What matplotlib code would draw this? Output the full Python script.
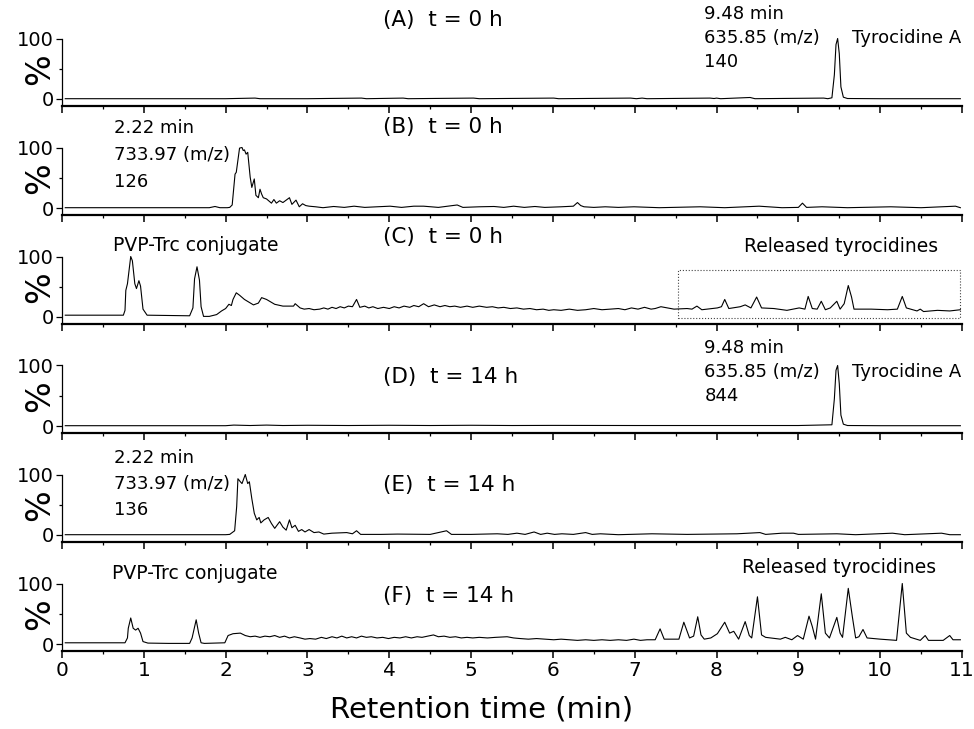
import matplotlib.pyplot as plt
from matplotlib.patches import Rectangle
from matplotlib.ticker import MultipleLocator

# ---- data (time in min, intensity in %) ----
a_time = [0.04, 1.0, 2.0, 2.36, 2.42, 3.0, 3.66, 3.72, 4.17, 4.23, 5.03, 5.1, 6.01, 6.07,
          6.95, 7.02, 7.09, 7.15, 7.92, 7.97, 8.0, 8.05, 8.41, 8.47, 9.31, 9.36, 9.41,
          9.44, 9.46, 9.48, 9.50, 9.52, 9.55, 9.6, 10.0, 10.5, 10.98]
a_int = [0.5, 0.5, 0.5, 1.5, 0.5, 0.5, 1.5, 0.5, 1.5, 0.5, 1.5, 0.5, 1.5, 0.5,
         1.5, 0.5, 1.5, 0.5, 1.5, 0.8, 1.5, 0.5, 2.5, 0.5, 1.5, 0.5, 2,
         40, 90, 100, 75, 20, 3, 0.8, 0.5, 0.5, 0.5]

b_time = [0.04, 1.0, 1.8, 1.87, 1.93, 2.02, 2.05, 2.08, 2.115, 2.13, 2.17, 2.20, 2.215,
          2.23, 2.25, 2.27, 2.30, 2.32, 2.35, 2.37, 2.40, 2.42, 2.44, 2.46, 2.50, 2.56,
          2.59, 2.62, 2.66, 2.70, 2.74, 2.78, 2.81, 2.86, 2.90, 2.94, 2.98, 3.02, 3.10,
          3.19, 3.32, 3.45, 3.57, 3.7, 3.85, 4.01, 4.15, 4.3, 4.42, 4.6, 4.83, 4.9, 5.1,
          5.28, 5.4, 5.52, 5.65, 5.78, 5.9, 6.1, 6.25, 6.3, 6.34, 6.38, 6.5, 6.64, 6.8,
          6.99, 7.3, 7.8, 8.1, 8.52, 8.8, 9.0, 9.05, 9.1, 9.29, 9.6, 10.13, 10.5, 10.92,
          10.98]
b_int = [0.5, 0.5, 0.5, 2.5, 0.5, 0.5, 1, 5, 56, 59, 99, 100, 95,
         96, 89, 92, 51, 34, 48, 21, 17, 31, 23, 17, 15, 8,
         14, 8, 12, 9, 13, 17, 6, 13, 2, 7, 4, 3, 2,
         0.5, 2.5, 1, 3, 1, 2, 3, 1, 3, 3, 1, 5, 1, 2,
         2.5, 1, 3, 1, 2.5, 1, 2, 3, 9, 4, 2, 1, 2, 1,
         2, 0.5, 2, 0.5, 3, 0.5, 1, 8, 1, 2, 0.5, 2, 0.5, 3,
         0.5]

c_time = [0.04, 0.4, 0.75, 0.77, 0.78, 0.80, 0.84, 0.86, 0.89, 0.91, 0.94, 0.96, 0.99,
          1.04, 1.3, 1.56, 1.60, 1.62, 1.65, 1.68, 1.70, 1.73, 1.8, 1.89, 1.95, 2.0,
          2.04, 2.07, 2.09, 2.13, 2.17, 2.23, 2.34, 2.40, 2.44, 2.50, 2.60, 2.70, 2.83,
          2.85, 2.91, 2.96, 3.02, 3.08, 3.15, 3.2, 3.25, 3.3, 3.35, 3.4, 3.45, 3.5, 3.55,
          3.6, 3.64, 3.7, 3.75, 3.8, 3.86, 3.93, 4.0, 4.06, 4.12, 4.18, 4.25, 4.3, 4.36,
          4.42, 4.48, 4.55, 4.62, 4.68, 4.74, 4.8, 4.87, 4.95, 5.02, 5.1, 5.19, 5.26,
          5.33, 5.4, 5.48, 5.56, 5.64, 5.72, 5.8, 5.88, 5.95, 6.01, 6.1, 6.2, 6.3, 6.4,
          6.5, 6.6, 6.7, 6.8, 6.88, 6.96, 7.04, 7.12, 7.2, 7.25,
          7.32, 7.48, 7.64, 7.70, 7.76, 7.82, 8.01, 8.06, 8.10, 8.15, 8.29, 8.35, 8.42,
          8.49, 8.55, 8.70, 8.86, 9.01, 9.08, 9.12, 9.17, 9.23, 9.28, 9.33, 9.39, 9.47,
          9.51, 9.56, 9.61, 9.65, 9.68, 9.8, 9.89, 10.09, 10.21, 10.27, 10.32, 10.45,
          10.49, 10.53, 10.7, 10.85, 10.98]
c_int = [3, 3, 3, 11, 44, 55, 100, 93, 55, 47, 60, 51, 13,
         3, 2.5, 2, 15, 63, 83, 61, 17, 1, 1, 4, 10, 14,
         21, 19, 29, 40, 36, 29, 20, 23, 32, 29, 21, 18, 18,
         22, 15, 13, 14, 12, 13, 15, 13, 16, 14, 17, 15, 18, 17,
         29, 16, 18, 15, 17, 14, 16, 14, 17, 15, 18, 16, 19, 17,
         22, 17, 20, 17, 19, 17, 18, 16, 18, 16, 18, 16, 17,
         15, 16, 14, 15, 13, 14, 12, 13, 11, 12, 11, 13, 11, 12,
         14, 12, 13, 14, 12, 15, 13, 16, 13, 14,
         17, 13, 14, 13, 18, 12, 15, 17, 29, 14, 17, 20, 15,
         33, 15, 14, 11, 15, 13, 34, 14, 13, 26, 12, 15, 26,
         13, 22, 52, 33, 13, 13, 13, 12, 13, 34, 15, 10,
         13, 9, 11, 10, 12]

d_time = [0.04, 1.0, 2.0, 2.1, 2.3, 2.5, 2.7, 3.0, 3.5, 4.0, 4.5, 5.0, 5.5, 6.0, 7.0,
          8.0, 9.0, 9.41, 9.44, 9.46, 9.48, 9.50, 9.52, 9.55, 9.6, 10.0, 10.98]
d_int = [0.5, 0.5, 0.5, 1.5, 0.8, 1.5, 0.8, 1.2, 0.8, 1.2, 0.8, 1.2, 0.8, 1.0, 0.8,
         0.8, 0.8, 2, 45, 92, 100, 70, 18, 3, 0.8, 0.5, 0.5]

e_time = [0.04, 1.0, 2.0, 2.05, 2.08, 2.11, 2.135, 2.15, 2.18, 2.20, 2.24, 2.27, 2.29,
          2.32, 2.35, 2.38, 2.41, 2.43, 2.47, 2.52, 2.56, 2.60, 2.66, 2.70, 2.74, 2.78,
          2.81, 2.85, 2.89, 2.93, 2.97, 3.02, 3.08, 3.14, 3.2, 3.3, 3.48, 3.55, 3.60,
          3.65, 3.9, 4.1, 4.5, 4.70, 4.76, 5.0, 5.32, 5.45, 5.56, 5.66, 5.77, 5.85, 5.93,
          6.02, 6.11, 6.25, 6.40, 6.48, 6.58, 6.8, 7.21, 7.64, 8.25, 8.53, 8.6, 8.80,
          8.94, 9.0, 9.47, 9.7, 10.15, 10.3, 10.75, 10.85, 10.98]
e_int = [0.5, 0.5, 0.5, 1, 4, 7, 47, 93, 88, 85, 100, 85, 88,
         60, 36, 25, 29, 20, 25, 29, 19, 11, 22, 13, 8, 25,
         12, 16, 6, 9, 5, 9, 4, 5, 1.5, 3, 4, 2, 7,
         1, 1, 1.5, 1, 7, 1, 1, 2, 1, 3, 1, 5, 1, 3,
         1, 2, 1, 4, 1, 2, 0.5, 2, 1, 2, 4, 1, 3,
         3, 1, 2, 0.5, 3, 0.5, 3, 0.5, 0.5]

f_time = [0.04, 0.4, 0.77, 0.80, 0.81, 0.84, 0.87, 0.90, 0.93, 0.96, 0.99, 1.05, 1.3,
          1.56, 1.59, 1.64, 1.67, 1.70, 1.74, 1.99, 2.03, 2.09, 2.18, 2.24, 2.3, 2.36,
          2.42, 2.48, 2.54, 2.6, 2.66, 2.72, 2.78, 2.84, 2.91, 2.97, 3.03, 3.1, 3.17,
          3.23, 3.3, 3.36, 3.42, 3.48, 3.54, 3.6, 3.66, 3.72, 3.78, 3.85, 3.92, 3.99,
          4.06, 4.13, 4.2, 4.27, 4.34, 4.4, 4.47, 4.54, 4.6, 4.67, 4.74, 4.81, 4.88,
          4.95, 5.02, 5.1, 5.2, 5.3, 5.44, 5.52, 5.6, 5.7, 5.8, 5.9, 6.01, 6.1, 6.2,
          6.3, 6.4, 6.5, 6.6, 6.7, 6.8, 6.9, 6.99, 7.07, 7.15,
          7.25, 7.31, 7.36, 7.54, 7.60, 7.64, 7.67, 7.72, 7.77, 7.81, 7.85, 7.93, 8.01,
          8.10, 8.16, 8.21, 8.27, 8.35, 8.40, 8.43, 8.50, 8.55, 8.60, 8.78, 8.84, 8.92,
          8.99, 9.06, 9.13, 9.17, 9.21, 9.28, 9.33, 9.38, 9.47, 9.51, 9.54, 9.61, 9.66,
          9.70, 9.74, 9.79, 9.84, 10.0, 10.20, 10.27, 10.32, 10.37, 10.49, 10.55, 10.59,
          10.77, 10.85, 10.89, 10.98]
f_int = [2, 2, 2, 10, 26, 43, 26, 23, 26, 18, 4, 1.5, 1,
         1, 10, 40, 18, 2, 1, 2, 14, 17, 18, 14, 12, 13,
         11, 13, 12, 14, 11, 13, 10, 12, 10, 8, 9, 8, 11,
         9, 12, 10, 13, 10, 12, 10, 13, 11, 12, 10, 11, 9,
         11, 10, 12, 10, 12, 11, 13, 15, 12, 13, 11, 12, 10,
         11, 10, 11, 10, 11, 12, 10, 9, 8, 9, 8, 7, 8, 7,
         6, 7, 6, 7, 6, 7, 6, 8, 6, 7,
         7, 25, 8, 8, 36, 21, 10, 13, 45, 15, 8, 10, 17,
         36, 18, 21, 8, 37, 14, 10, 78, 15, 11, 8, 11, 7,
         14, 8, 46, 29, 8, 83, 18, 10, 44, 18, 11, 92, 45,
         10, 12, 24, 10, 8, 6, 100, 18, 11, 6, 14, 6,
         6, 14, 7, 7]

panels = [
    (a_time, a_int, "(A)  t = 0 h"),
    (b_time, b_int, "(B)  t = 0 h"),
    (c_time, c_int, "(C)  t = 0 h"),
    (d_time, d_int, "(D)  t = 14 h"),
    (e_time, e_int, "(E)  t = 14 h"),
    (f_time, f_int, "(F)  t = 14 h"),
]
title_y = [131, 134, 132, 81, 83, 79]

W, H = 974, 729
fig = plt.figure(figsize=(W / 100, H / 100), dpi=100)

LEFT, RIGHT = 62, 962
axes = []
for i, (t, y, title) in enumerate(panels):
    py100 = 38.5 + 109 * i
    py0 = 99 + 109 * i
    scale = (py0 - py100) / 100.0
    pybot = py0 + 12 * scale
    ax = fig.add_axes([LEFT / W, 1 - pybot / H, (RIGHT - LEFT) / W, (pybot - py100) / H])
    ax.plot(t, y, color="black", lw=0.8, clip_on=False)
    ax.set_xlim(0, 11)
    ax.set_ylim(-12, 100)
    ax.spines["top"].set_visible(False)
    ax.spines["right"].set_visible(False)
    ax.spines["bottom"].set_linewidth(1.6)
    ax.spines["left"].set_linewidth(0.9)
    ax.set_yticks([0, 100])
    ax.yaxis.set_minor_locator(MultipleLocator(50))
    ax.xaxis.set_major_locator(MultipleLocator(1))
    ax.xaxis.set_minor_locator(MultipleLocator(0.5))
    ax.tick_params(axis="x", which="major", length=5, width=1.1, direction="out")
    ax.tick_params(axis="x", which="minor", length=2.5, width=0.9, direction="out")
    ax.tick_params(axis="y", which="major", length=4, width=0.9, labelsize=14, pad=2)
    ax.tick_params(axis="y", which="minor", length=2.5, width=0.9)
    if i < len(panels) - 1:
        ax.tick_params(axis="x", labelbottom=False)
    else:
        ax.tick_params(axis="x", labelsize=14.5, pad=2)
    ax.text(-0.27, 50, "%", rotation=90, fontsize=24, ha="center", va="center")
    ax.text(3.92, title_y[i], title, fontsize=15.5, ha="left", va="center", clip_on=False)
    axes.append(ax)

ann = dict(fontsize=13, ha="left", va="center")

# Tyrocidine A reference runs
for ax, count, base in ((axes[0], "140", 140.5), (axes[3], "844", 129)):
    ax.text(7.85, base, "9.48 min", **ann)
    ax.text(7.85, base - 40, "635.85 (m/z)", **ann)
    ax.text(7.85, base - 80, count, **ann)
    ax.text(9.66, base - 40, "Tyrocidine A", **ann)

# conjugate standard runs
for ax, count, base, step in ((axes[1], "126", 132, 44.5), (axes[4], "136", 127, 43)):
    ax.text(0.63, base, "2.22 min", **ann)
    ax.text(0.63, base - step, "733.97 (m/z)", **ann)
    ax.text(0.63, base - 2 * step, count, **ann)

axes[2].text(0.62, 119, "PVP-Trc conjugate", fontsize=13.5, ha="left", va="center")
axes[2].text(8.34, 116, "Released tyrocidines", fontsize=13.5, ha="left", va="center")
axes[5].text(0.61, 117, "PVP-Trc conjugate", fontsize=13.5, ha="left", va="center")
axes[5].text(8.31, 127, "Released tyrocidines", fontsize=13.5, ha="left", va="center")

# dotted box around the released peaks in (C)
axes[2].add_patch(Rectangle((7.53, -1), 10.98 - 7.53, 78, fill=False, ls=":",
                            lw=0.8, ec="#444444", clip_on=False))

axes[-1].set_xlabel("Retention time (min)", fontsize=21)
axes[-1].xaxis.set_label_coords(0.466, -0.65)

fig.savefig("out.png", dpi=100)
